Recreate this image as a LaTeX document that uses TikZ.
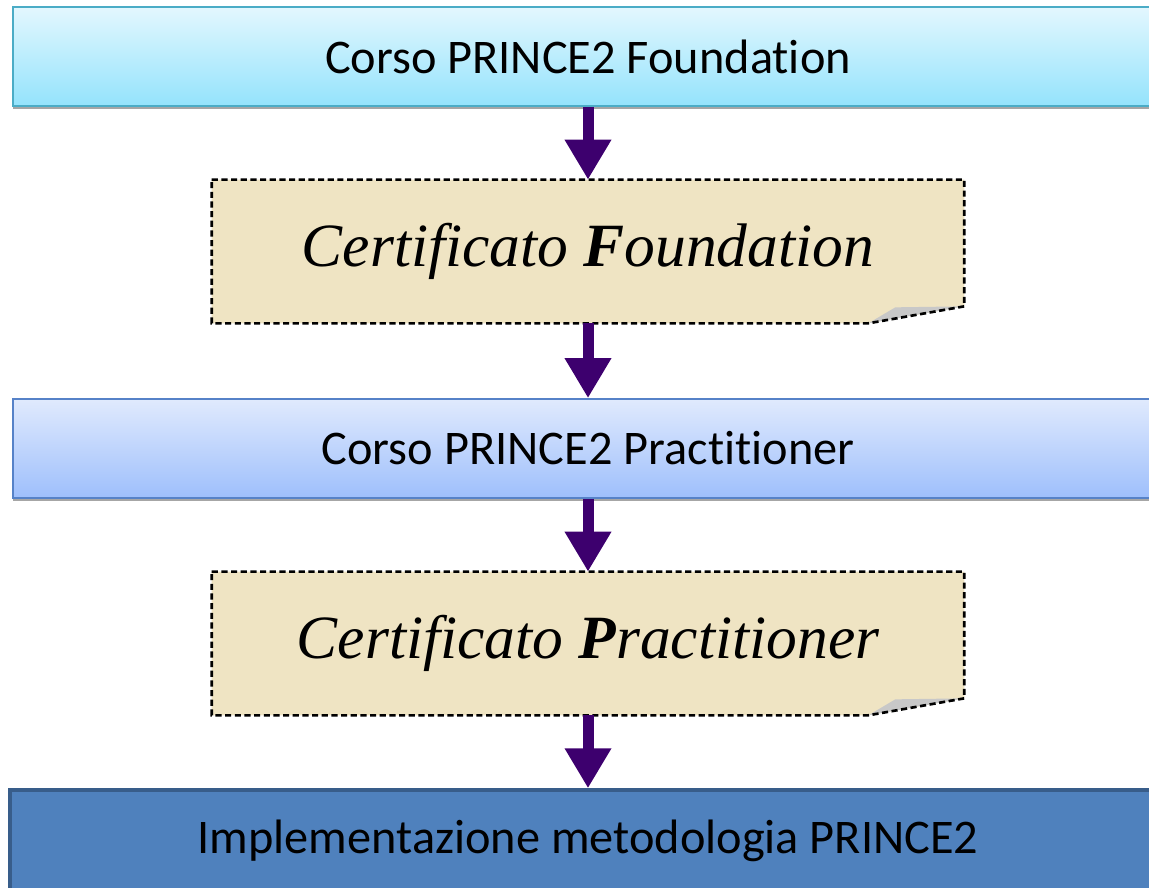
\documentclass[tikz,border=0pt]{standalone}
\usepackage{fontspec}
\setmainfont{Liberation Serif}
\newfontfamily\calibri[Ligatures=NoCommon]{Carlito}
\usetikzlibrary{arrows.meta,backgrounds}
\definecolor{aquaedge}{RGB}{75,172,198}
\definecolor{aquatop}{RGB}{227,247,254}
\definecolor{aquabot}{RGB}{148,227,252}
\definecolor{blueedge}{RGB}{86,130,200}
\definecolor{bluetop}{RGB}{224,234,253}
\definecolor{bluebot}{RGB}{158,191,252}
\definecolor{darkfill}{RGB}{79,129,189}
\definecolor{darkedge}{RGB}{56,93,138}
\definecolor{paper}{RGB}{239,228,195}
\definecolor{fold}{RGB}{200,200,200}
\definecolor{arrowpurple}{RGB}{61,0,110}
\tikzset{
	corso/.style={draw, line width=1pt, minimum width=23cm, minimum height=1.98cm, inner sep=0pt,
		font=\calibri\fontsize{27.5}{32}\selectfont, preaction={fill=black!35, transform canvas={yshift=-1.6pt}}},
	certbox/.style={minimum width=15.04cm, minimum height=2.86cm, inner sep=0pt, font=\fontsize{35}{40}\selectfont\itshape},
	paperedge/.style={draw=black, line width=1.5pt, dash pattern=on 3.5pt off 2pt},
	flow/.style={arrowpurple, line width=0.22cm, -{Triangle[width=0.88cm,length=0.8cm]}}
}
\begin{document}
\begin{tikzpicture}[x=0.02cm,y=-0.02cm]
	\useasboundingbox (0,0) rectangle (1149,888);
	\node[corso, draw=aquaedge, top color=aquatop, bottom color=aquabot] (found) at (588,56.5) {Corso PRINCE2 Foundation};
	\node[certbox] (certF) at (588,251.5) {Certificato \textbf{F}oundation};
	\node[corso, draw=blueedge, top color=bluetop, bottom color=bluebot] (pract) at (588,448.5) {Corso PRINCE2 Practitioner};
	\node[certbox] (certP) at (588,643.5) {Certificato \textbf{P}ractitioner};
	\node[corso, draw=darkedge, line width=2pt, fill=darkfill, minimum width=23.12cm, minimum height=2.04cm, preaction={}] (impl) at (588,841) {Implementazione metodologia PRINCE2};
	\begin{scope}[on background layer]
		\fill[paper] (certF.north west) -- (certF.north east) -- ([yshift=0.34cm]certF.south east) -- ([xshift=-1.92cm]certF.south east) -- (certF.south west) -- cycle;
		\fill[fold] ([xshift=-1.92cm]certF.south east) -- ([xshift=-1.38cm,yshift=0.32cm]certF.south east) -- ([yshift=0.34cm]certF.south east) -- cycle;
		\draw[paperedge] (certF.north west) -- (certF.north east) -- ([yshift=0.34cm]certF.south east) -- ([xshift=-1.92cm]certF.south east) -- (certF.south west) -- cycle;
		\fill[paper] (certP.north west) -- (certP.north east) -- ([yshift=0.34cm]certP.south east) -- ([xshift=-1.92cm]certP.south east) -- (certP.south west) -- cycle;
		\fill[fold] ([xshift=-1.92cm]certP.south east) -- ([xshift=-1.38cm,yshift=0.32cm]certP.south east) -- ([yshift=0.34cm]certP.south east) -- cycle;
		\draw[paperedge] (certP.north west) -- (certP.north east) -- ([yshift=0.34cm]certP.south east) -- ([xshift=-1.92cm]certP.south east) -- (certP.south west) -- cycle;
	\end{scope}
	\draw[flow] (found) -- (certF);
	\draw[flow] (certF) -- (pract);
	\draw[flow] (pract) -- (certP);
	\draw[flow] (certP) -- (impl);
\end{tikzpicture}
\end{document}
